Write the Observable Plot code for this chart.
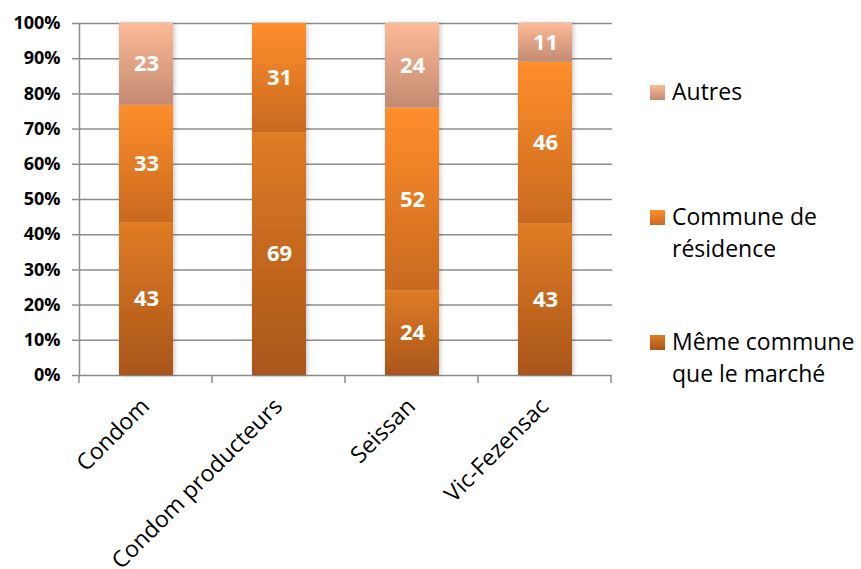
<!DOCTYPE html>
<html>
<head>
<meta charset="utf-8">
<script src="https://cdn.jsdelivr.net/npm/d3@7"></script>
<script src="https://cdn.jsdelivr.net/npm/@observablehq/plot@0.6"></script>
<style>
  html, body { margin: 0; padding: 0; background: #fff; }
  #chart { position: relative; width: 861px; height: 569px; }
  svg { font-family: "Open Sans", sans-serif; overflow: visible; }
</style>
</head>
<body>
<div id="chart"></div>
<script>
// ---- data ----
const categories = ["Condom", "Condom producteurs", "Seissan", "Vic-Fezensac"];
const seriesNames = ["Même commune que le marché", "Commune de résidence", "Autres"];
const legendLines = [["Autres"], ["Commune de", "résidence"], ["Même commune", "que le marché"]];
const memeCommune = [43, 69, 24, 43];
const communeResidence = [33, 31, 52, 46];
const autres = [23, 0, 24, 11];
const yTicks = [0, 0.1, 0.2, 0.3, 0.4, 0.5, 0.6, 0.7, 0.8, 0.9, 1];

const seriesValues = [memeCommune, communeResidence, autres];
const data = [];
categories.forEach((c, i) => {
  seriesNames.forEach((s, j) => data.push({category: c, series: s, value: seriesValues[j][i]}));
});

const gradIds = ["gMeme", "gComm", "gAutres"];
const gradStops = [
  ["#E07B24", "#A9561A"],
  ["#FF8E2B", "#C9691F"],
  ["#FDBA96", "#C38A72"]
];

const gridColor = "#8c8c8c";

const plot = Plot.plot({
  width: 861,
  height: 569,
  marginLeft: 79,
  marginRight: 249,
  marginTop: 23,
  marginBottom: 194,
  x: {domain: categories, paddingInner: 0.595, paddingOuter: 0.2975, axis: null, label: null},
  y: {domain: [0, 1], axis: null, label: null},
  color: {domain: seriesNames, range: gradIds.map(id => `url(#${id})`)},
  marks: [
    Plot.ruleY(yTicks, {stroke: gridColor, strokeWidth: 1.5}),
    Plot.frame({anchor: "left", stroke: gridColor, strokeWidth: 1.5}),
    Plot.axisY({
      ticks: yTicks, tickFormat: d3.format(".0%"), tickSize: 7, tickPadding: 12, label: null,
      fontSize: 18, fontWeight: "bold", stroke: gridColor, strokeWidth: 1.5, fill: "black", strokeOpacity: 1
    }),
    Plot.barY(data, Plot.stackY({
      x: "category", y: "value", fill: "series", order: seriesNames, offset: "normalize"
    })),
    Plot.text(data.filter(d => d.value > 0), Plot.stackY({
      x: "category", y: "value", z: "series", order: seriesNames, offset: "normalize",
      text: d => String(d.value), fill: "white", fontSize: 22, fontWeight: "bold"
    })),
    Plot.axisX({
      tickSize: 0, tickRotate: -45, fontSize: 23, fill: "black", tickPadding: 10, dx: -1, dy: 17, label: null
    })
  ]
});

const svg = d3.select(plot);
const defs = svg.insert("defs", ":first-child");
gradIds.forEach((id, k) => {
  const g = defs.append("linearGradient").attr("id", id)
    .attr("x1", 0).attr("y1", 0).attr("x2", 0).attr("y2", 1);
  g.append("stop").attr("offset", "0%").attr("stop-color", gradStops[k][0]);
  g.append("stop").attr("offset", "100%").attr("stop-color", gradStops[k][1]);
});
const f = defs.append("filter").attr("id", "shadow").attr("x", "-20%").attr("y", "-5%").attr("width", "140%").attr("height", "110%");
f.append("feDropShadow").attr("dx", 1.5).attr("dy", 0).attr("stdDeviation", 2)
  .attr("flood-color", "#000").attr("flood-opacity", 0.22);
svg.selectAll("g[aria-label='bar']").attr("filter", "url(#shadow)");

// category boundary ticks on the x axis
const xs = plot.scale("x");
const ys = plot.scale("y");
const step = xs.step;
const x0 = xs.range[0];
const y0 = ys.apply(0);
const tickG = svg.append("g").attr("stroke", gridColor).attr("stroke-width", 1.5);
for (let i = 0; i <= categories.length; i++) {
  const xx = x0 + i * step;
  tickG.append("line").attr("x1", xx).attr("x2", xx).attr("y1", y0).attr("y2", y0 + 8);
}

// legend
const leg = svg.append("g").attr("font-size", 23).attr("fill", "black").attr("text-anchor", "start");
const legendTop = [100, 225, 350];
[2, 1, 0].forEach((si, k) => {
  const yb = legendTop[k];
  leg.append("rect").attr("x", 650).attr("y", yb - 15).attr("width", 15).attr("height", 15)
    .attr("fill", `url(#${gradIds[si]})`);
  legendLines[k].forEach((line, li) => {
    leg.append("text").attr("x", 672).attr("y", yb + li * 32).text(line);
  });
});

document.getElementById("chart").appendChild(plot);
</script>
</body>
</html>
